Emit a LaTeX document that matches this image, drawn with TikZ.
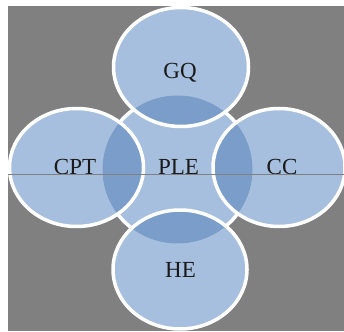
\documentclass[tikz,border=0pt]{standalone}
\usepackage{fontspec}
\setmainfont{Liberation Serif}
\definecolor{bgray}{HTML}{808080}
\definecolor{lblue}{HTML}{A7BFDE}
\definecolor{dblue}{HTML}{7A9DCA}
\definecolor{ink}{HTML}{1A1A1A}
\begin{document}
\begin{tikzpicture}[x=1pt,y=1pt,
  lbl/.style={text=ink,font=\fontsize{23}{23}\selectfont,anchor=base,inner sep=0pt},
  wborder/.style={draw=white,line width=3.5pt}]
\useasboundingbox (0,0) rectangle (344,331);
\fill[white] (0,0) rectangle (344,331);
\fill[bgray] (8,0) rectangle (344,325);
% central circle
\fill[lblue] (177.5,161.5) ellipse [x radius=75, y radius=74];
\draw[wborder] (177.5,161.5) ellipse [x radius=75, y radius=74];
% outer fills
\fill[lblue] (181,264) ellipse [x radius=67.5, y radius=59.5];
\fill[lblue] (76.5,163.5) ellipse [x radius=67, y radius=59];
\fill[lblue] (279,163.5) ellipse [x radius=66, y radius=59];
\fill[lblue] (180,61.5) ellipse [x radius=67, y radius=59.5];
% dark overlaps
\begin{scope}
\clip (177.5,161.5) ellipse [x radius=75, y radius=74];
\fill[dblue] (181,264) ellipse [x radius=67.5, y radius=59.5];
\fill[dblue] (76.5,163.5) ellipse [x radius=67, y radius=59];
\fill[dblue] (279,163.5) ellipse [x radius=66, y radius=59];
\fill[dblue] (180,61.5) ellipse [x radius=67, y radius=59.5];
\end{scope}
% outer borders
\draw[wborder] (181,264) ellipse [x radius=67.5, y radius=59.5];
\draw[wborder] (76.5,163.5) ellipse [x radius=67, y radius=59];
\draw[wborder] (279,163.5) ellipse [x radius=66, y radius=59];
\draw[wborder] (180,61.5) ellipse [x radius=67, y radius=59.5];
% labels
\node[lbl] (gq) at (180,252) {GQ};
\node[lbl] (cpt) at (75,156) {CPT};
\node[lbl] (ple) at (178.5,156) {PLE};
\node[lbl] (cc) at (282,156) {CC};
\node[lbl] (he) at (180.5,53) {HE};
% horizontal line
\coordinate (la) at (8,156);
\coordinate (lb) at (344,156);
\draw[bgray,line width=1pt] (la) -- (lb);
\end{tikzpicture}
\end{document}
